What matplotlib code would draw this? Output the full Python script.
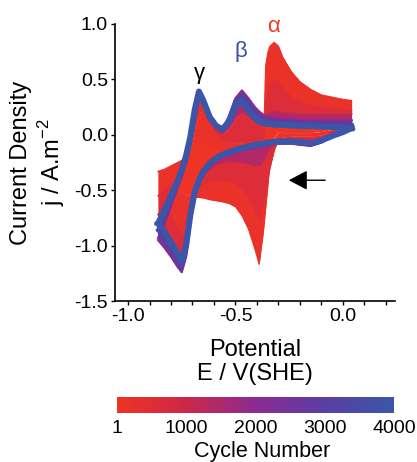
import numpy as np
import matplotlib
matplotlib.use("Agg")
import matplotlib.pyplot as plt
from matplotlib.colors import LinearSegmentedColormap, Normalize
from matplotlib.cm import ScalarMappable

plt.rcParams["font.family"] = ["Liberation Sans", "DejaVu Sans"]
plt.rcParams["mathtext.fontset"] = "custom"
plt.rcParams["mathtext.rm"] = "Liberation Sans"
plt.rcParams["axes.unicode_minus"] = False

# potential grid shared by every branch (V vs SHE)
E = [-0.86, -0.83, -0.80, -0.77, -0.75, -0.73, -0.71, -0.69, -0.67, -0.65, -0.62,
     -0.59, -0.56, -0.53, -0.50, -0.47, -0.44, -0.41, -0.39, -0.37, -0.36, -0.35,
     -0.34, -0.32, -0.30, -0.28, -0.24, -0.20, -0.15, -0.10, -0.05, 0.00, 0.04]

# cycle numbers
CYCLES = [1, 300, 800, 2000, 3000, 4000]

# anodic (forward) branches, A.m-2
ANODIC = [
    [-0.33, -0.31, -0.28, -0.25, -0.23, -0.21, -0.17, -0.10, -0.05, -0.06, -0.10,
     -0.13, -0.14, -0.14, -0.14, -0.14, -0.13, -0.12, -0.12, -0.10, 0.62, 0.74,
     0.80, 0.835, 0.80, 0.70, 0.57, 0.48, 0.41, 0.36, 0.34, 0.32, 0.31],
    [-0.55, -0.50, -0.45, -0.39, -0.34, -0.27, -0.14, 0.05, 0.20, 0.22, 0.10,
     0.00, -0.05, -0.07, -0.07, -0.06, -0.06, -0.07, -0.07, -0.05, 0.28, 0.40,
     0.46, 0.50, 0.47, 0.42, 0.34, 0.30, 0.27, 0.25, 0.24, 0.23, 0.22],
    [-0.72, -0.63, -0.54, -0.44, -0.36, -0.25, -0.07, 0.17, 0.32, 0.28, 0.13,
     0.04, 0.01, 0.06, 0.15, 0.20, 0.17, 0.13, 0.12, 0.13, 0.16, 0.19,
     0.21, 0.22, 0.21, 0.20, 0.20, 0.19, 0.19, 0.19, 0.19, 0.19, 0.19],
    [-0.93, -0.80, -0.64, -0.48, -0.38, -0.24, -0.05, 0.20, 0.36, 0.30, 0.15,
     0.07, 0.05, 0.17, 0.33, 0.40, 0.33, 0.25, 0.21, 0.18, 0.17, 0.16,
     0.16, 0.15, 0.15, 0.14, 0.14, 0.13, 0.13, 0.13, 0.13, 0.13, 0.13],
    [-0.86, -0.74, -0.60, -0.45, -0.35, -0.22, -0.03, 0.21, 0.38, 0.31, 0.16,
     0.08, 0.05, 0.14, 0.31, 0.36, 0.27, 0.19, 0.16, 0.14, 0.13, 0.13,
     0.12, 0.12, 0.11, 0.11, 0.11, 0.10, 0.10, 0.10, 0.09, 0.09, 0.09],
    [-0.80, -0.68, -0.55, -0.42, -0.32, -0.19, -0.02, 0.22, 0.39, 0.31, 0.16,
     0.08, 0.05, 0.12, 0.26, 0.30, 0.22, 0.15, 0.12, 0.11, 0.10, 0.10,
     0.10, 0.09, 0.09, 0.09, 0.085, 0.08, 0.08, 0.075, 0.07, 0.065, 0.06],
]

# cathodic (reverse) branches on the same grid, A.m-2
CATHODIC = [
    [-0.33, -0.38, -0.44, -0.49, -0.52, -0.54, -0.55, -0.56, -0.565, -0.57, -0.585,
     -0.595, -0.605, -0.62, -0.65, -0.73, -0.85, -1.03, -1.17, -0.87, -0.67, -0.47,
     -0.265, -0.03, 0.03, 0.02, 0.02, 0.02, 0.02, 0.03, 0.05, 0.10, 0.31],
    [-0.55, -0.62, -0.72, -0.84, -0.88, -0.80, -0.62, -0.52, -0.47, -0.44, -0.42,
     -0.41, -0.41, -0.42, -0.44, -0.48, -0.55, -0.68, -0.76, -0.60, -0.50, -0.40,
     -0.30, -0.14, -0.04, -0.02, -0.01, -0.01, -0.01, 0.00, 0.02, 0.06, 0.22],
    [-0.72, -0.82, -0.94, -1.07, -1.12, -1.00, -0.72, -0.54, -0.44, -0.37, -0.31,
     -0.27, -0.25, -0.24, -0.24, -0.25, -0.26, -0.28, -0.28, -0.23, -0.19, -0.15,
     -0.12, -0.07, -0.05, -0.04, -0.04, -0.04, -0.05, -0.03, 0.01, 0.05, 0.19],
    [-0.95, -1.02, -1.10, -1.19, -1.24, -1.10, -0.76, -0.55, -0.43, -0.35, -0.28,
     -0.23, -0.20, -0.18, -0.16, -0.14, -0.13, -0.12, -0.11, -0.10, -0.10, -0.09,
     -0.09, -0.08, -0.08, -0.08, -0.08, -0.09, -0.10, -0.07, -0.01, 0.04, 0.13],
    [-0.86, -0.94, -1.03, -1.14, -1.20, -1.06, -0.74, -0.53, -0.42, -0.34, -0.27,
     -0.22, -0.19, -0.16, -0.145, -0.13, -0.115, -0.10, -0.095, -0.09, -0.085, -0.08,
     -0.08, -0.07, -0.07, -0.07, -0.07, -0.08, -0.09, -0.06, -0.005, 0.035, 0.09],
    [-0.80, -0.88, -0.97, -1.07, -1.13, -1.00, -0.72, -0.52, -0.41, -0.33, -0.26,
     -0.21, -0.18, -0.155, -0.135, -0.12, -0.105, -0.09, -0.085, -0.08, -0.075, -0.07,
     -0.07, -0.065, -0.06, -0.06, -0.06, -0.065, -0.08, -0.05, -0.01, 0.025, 0.06],
]

CBAR_TICKS = [1, 1000, 2000, 3000, 4000]

cmap = LinearSegmentedColormap.from_list(
    "cycles",
    [(0.0, "#ef3325"), (0.25, "#cc2848"), (0.5, "#8b2a92"), (0.75, "#5a3ea2"), (1.0, "#3b56a8")],
)
norm = Normalize(vmin=1, vmax=4000)

fig = plt.figure(figsize=(4.17, 4.62), dpi=100)
ax = fig.add_axes([115 / 417, 1 - 301 / 462, 280 / 417, 277 / 462])

E = np.array(E)

# the first cycle is a closed loop; its inside is covered by the many early traces
first_a = np.array(ANODIC[0])
first_c = np.array(CATHODIC[0])
ax.fill(np.r_[E, E[::-1]], np.r_[first_a, first_c[::-1]], color=cmap(norm(CYCLES[0])),
        lw=0, zorder=0)

line_w = [0.8, 0.9, 1.0, 1.6, 2.8, 4.4]
for k, cyc in enumerate(CYCLES):
    a = np.array(ANODIC[k])
    c = np.array(CATHODIC[k])
    if k > 0:
        mid = cmap(norm(0.5 * (cyc + CYCLES[k - 1])))
        a0 = np.array(ANODIC[k - 1])
        c0 = np.array(CATHODIC[k - 1])
        ax.fill_between(E, a0, a, color=mid, lw=0, zorder=2 * k)
        ax.fill_between(E, c0, c, color=mid, lw=0, zorder=2 * k)
    col = cmap(norm(cyc))
    ax.plot(E, a, color=col, lw=line_w[k], zorder=2 * k + 1, solid_joinstyle="round")
    ax.plot(E, c, color=col, lw=line_w[k], zorder=2 * k + 1, solid_joinstyle="round")

ax.set_xlim(-1.0605, 0.242)
ax.set_ylim(-1.5, 1.0)
ax.set_xticks([-1.0, -0.5, 0.0])
ax.set_xticks(np.arange(-1.0, 0.25, 0.1), minor=True)
ax.set_yticks([-1.5, -1.0, -0.5, 0.0, 0.5, 1.0])
ax.set_xticklabels(["-1.0", "-0.5", "0.0"])
ax.set_yticklabels(["-1.5", "-1.0", "-0.5", "0.0", "0.5", "1.0"])
ax.tick_params(which="both", direction="out", length=3, width=1, labelsize=14, pad=2)
for s in ["top", "right"]:
    ax.spines[s].set_visible(False)
for s in ["left", "bottom"]:
    ax.spines[s].set_linewidth(1.2)

# peak labels
ax.text(-0.667, 0.556, "γ", color="black", fontsize=16, ha="center", va="center")
ax.text(-0.474, 0.75, "β", color="#3f4fa6", fontsize=16, ha="center", va="center")
ax.text(-0.321, 0.976, "α", color="#ef3b2c", fontsize=16, ha="center", va="center")

# scan direction arrow
ax.annotate("", xy=(-0.265, -0.41), xytext=(-0.07, -0.41),
            arrowprops=dict(arrowstyle="-|>,head_length=0.95,head_width=0.5",
                            color="black", lw=1.0, mutation_scale=12))

fig.text(38.5 / 417, 1 - 162.5 / 462, "Current Density\nj / A.m$^{-2}$", rotation=90,
         ha="center", va="center", multialignment="center", fontsize=17, linespacing=1.15)
fig.text(255 / 417, 1 - 362 / 462, "Potential\nE / V(SHE)", ha="center", va="center",
         multialignment="center", fontsize=17, linespacing=1.1)

cax = fig.add_axes([117 / 417, 1 - 413 / 462, 277 / 417, 16 / 462])
cb = fig.colorbar(ScalarMappable(norm=norm, cmap=cmap), cax=cax, orientation="horizontal")
cb.set_ticks(CBAR_TICKS)
cb.set_ticklabels([str(t) for t in CBAR_TICKS])
cb.outline.set_visible(False)
cax.tick_params(length=0, labelsize=14, pad=5)
fig.text(262 / 417, 1 - 451 / 462, "Cycle Number", ha="center", va="center", fontsize=15.5)

fig.savefig("out.png", dpi=100)
